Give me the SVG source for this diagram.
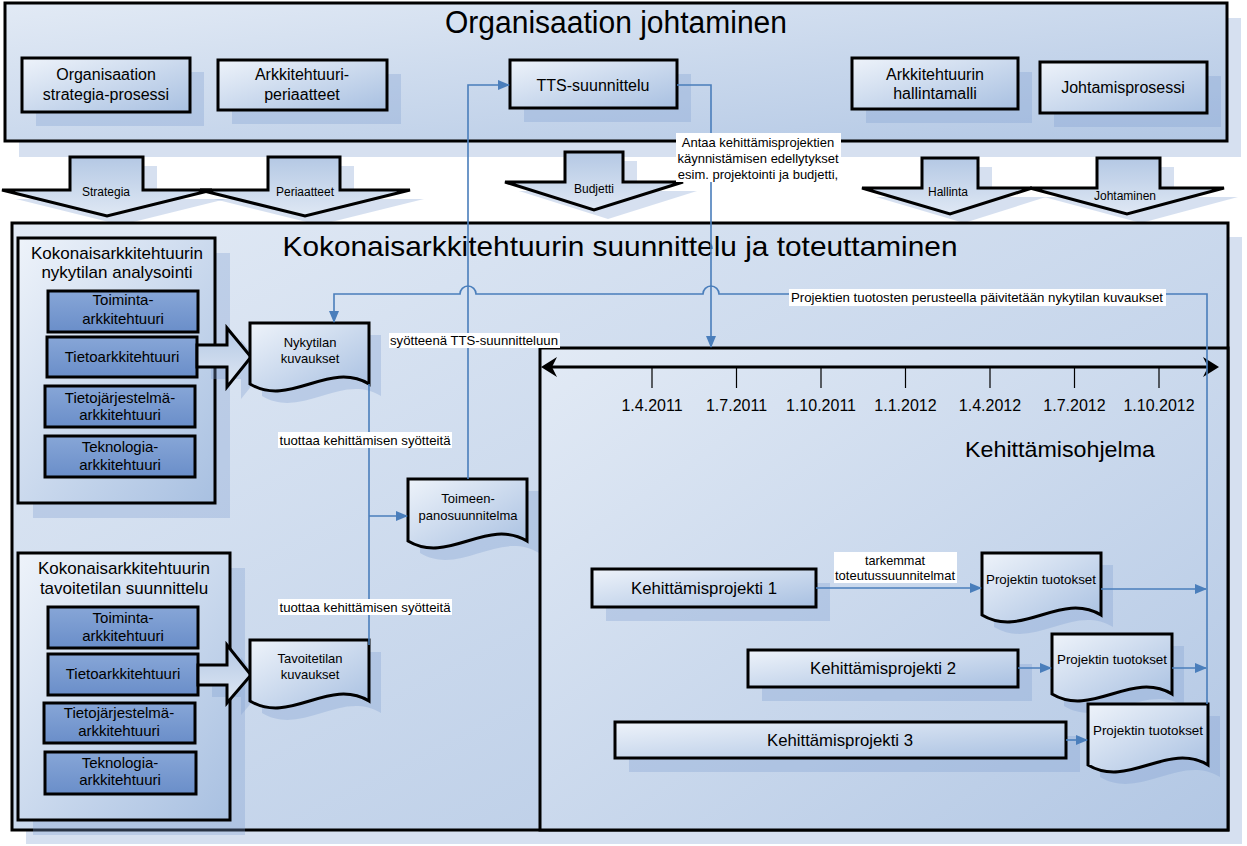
<svg xmlns="http://www.w3.org/2000/svg" width="1247" height="846" viewBox="0 0 1247 846">
<defs>
<linearGradient id="gOuter" x1="0" y1="0" x2="1" y2="1"><stop offset="0" stop-color="#e2eaf5"/><stop offset="1" stop-color="#b2c7e4"/></linearGradient>
<linearGradient id="gBox" x1="0" y1="0" x2="1" y2="1"><stop offset="0" stop-color="#eef3fa"/><stop offset="1" stop-color="#a8c0e1"/></linearGradient>
<linearGradient id="gDark" x1="0" y1="0" x2="0" y2="1"><stop offset="0" stop-color="#87a6d7"/><stop offset="1" stop-color="#6a8ec9"/></linearGradient>
<linearGradient id="gArrow" x1="0" y1="0" x2="0" y2="1"><stop offset="0" stop-color="#b4c8e4"/><stop offset="1" stop-color="#dfe8f4"/></linearGradient>
<marker id="ah" markerUnits="userSpaceOnUse" markerWidth="12" markerHeight="10" refX="11" refY="5" orient="auto"><path d="M0,0 L12,5 L0,10 Z" fill="#4a7ebb"/></marker>
<style>
.frame{stroke:#000;stroke-width:3}
.outer{fill:url(#gOuter)}
.box{fill:url(#gBox)}
.dark{fill:url(#gDark)}
.arr{fill:url(#gArrow);stroke:#000;stroke-width:3;stroke-linejoin:miter}
.sh{fill:#7f9fd0;opacity:0.32}
text{font-family:"Liberation Sans",Arial,sans-serif;fill:#000;text-anchor:middle}
.t16{font-size:16px}
.t15{font-size:15px}
.t17{font-size:17px}
.t13{font-size:13px}
.t12{font-size:12px}
.con{fill:none;stroke:#4a7ebb;stroke-width:1.6}
.lbl{fill:#fff}
</style>
</defs>

<!-- top box -->
<g id="org-johtaminen">
<rect class="sh" x="19" y="18" width="1222" height="139"/>
<rect class="outer frame" x="5" y="3" width="1222" height="138"/>
<text x="616" y="33" style="font-size:31px" textLength="342" lengthAdjust="spacingAndGlyphs">Organisaation johtaminen</text>
</g>
<g id="strategia-prosessi">
<rect class="sh" x="36" y="72" width="168" height="54"/>
<rect class="box frame" x="22" y="58" width="168" height="54"/>
<text class="t16" x="106" y="80">Organisaation</text>
<text class="t16" x="106" y="100">strategia-prosessi</text>
</g>
<g id="periaatteet">
<rect class="sh" x="232" y="74" width="169" height="50"/>
<rect class="box frame" x="218" y="60" width="169" height="50"/>
<text class="t16" x="302" y="80">Arkkitehtuuri-</text>
<text class="t16" x="302" y="100">periaatteet</text>
</g>
<g id="tts">
<rect class="sh" x="524" y="74" width="167" height="48"/>
<rect class="box frame" x="510" y="60" width="167" height="48"/>
<text class="t16" x="593" y="91">TTS-suunnittelu</text>
</g>
<g id="hallintamalli">
<rect class="sh" x="866" y="72" width="166" height="51"/>
<rect class="box frame" x="852" y="58" width="166" height="51"/>
<text class="t16" x="935" y="80">Arkkitehtuurin</text>
<text class="t16" x="935" y="99">hallintamalli</text>
</g>
<g id="johtamisprosessi">
<rect class="sh" x="1054" y="76" width="167" height="51"/>
<rect class="box frame" x="1040" y="62" width="167" height="51"/>
<text class="t16" x="1123" y="93">Johtamisprosessi</text>
</g>

<!-- down block arrows -->
<g id="arrow-strategia">
<path class="sh" d="M84,166 H157 V199 H226 L121,225 L16,199 H84 Z"/>
<path class="arr" d="M70,157 H143 V190 H212 L107,216 L2,190 H70 Z"/>
<text class="t12" x="106" y="196">Strategia</text>
</g>
<g id="arrow-periaatteet">
<path class="sh" d="M282,166 H354 V199 H424 L319,225 L214,199 H282 Z"/>
<path class="arr" d="M268,157 H340 V190 H410 L305,216 L200,190 H268 Z"/>
<text class="t12" x="305" y="196">Periaatteet</text>
</g>
<g id="arrow-budjetti">
<path class="sh" d="M579,161 H637 V191 H697 L608,219 L519,191 H579 Z"/>
<path class="arr" d="M565,152 H623 V182 H683 L594,210 L505,182 H565 Z"/>
<text class="t12" x="594" y="193">Budjetti</text>
</g>
<g id="arrow-hallinta">
<path class="sh" d="M936,167 H992 V197 H1046 L964,223 L876,197 H936 Z"/>
<path class="arr" d="M922,158 H978 V188 H1032 L950,214 L862,188 H922 Z"/>
<text class="t12" x="948" y="196">Hallinta</text>
</g>
<g id="arrow-johtaminen">
<path class="sh" d="M1111,167 H1174 V197 H1238 L1141,223 L1044,197 H1111 Z"/>
<path class="arr" d="M1097,158 H1160 V188 H1224 L1127,214 L1030,188 H1097 Z"/>
<text class="t12" x="1125" y="200">Johtaminen</text>
</g>

<!-- big box -->
<g id="kokonais">
<rect class="sh" x="26" y="237" width="1216" height="607"/>
<rect class="outer frame" x="12" y="223" width="1216" height="607"/>
<text x="620" y="256" style="font-size:28px" textLength="675" lengthAdjust="spacingAndGlyphs">Kokonaisarkkitehtuurin suunnittelu ja toteuttaminen</text>
</g>

<!-- panel 1 -->
<g id="nykytila-panel">
<rect class="sh" x="33" y="253" width="197" height="265"/>
<rect class="box frame" x="18" y="238" width="197" height="265"/>
<text class="t17" x="117" y="259">Kokonaisarkkitehtuurin</text>
<text class="t17" x="117" y="278">nykytilan analysointi</text>
</g>
<g id="n-toiminta"><rect class="dark frame" x="48" y="291" width="150" height="41"/><text class="t15" x="123" y="305">Toiminta-</text><text class="t15" x="123" y="324">arkkitehtuuri</text></g>
<g id="n-tieto"><rect class="dark frame" x="47" y="337" width="150" height="40"/><text class="t15" x="122" y="362">Tietoarkkitehtuuri</text></g>
<g id="n-tietojarj"><rect class="dark frame" x="45" y="386" width="150" height="41"/><text class="t15" x="120" y="403">Tietojärjestelmä-</text><text class="t15" x="120" y="420">arkkitehtuuri</text></g>
<g id="n-teknologia"><rect class="dark frame" x="45" y="436" width="150" height="41"/><text class="t15" x="120" y="452">Teknologia-</text><text class="t15" x="120" y="470">arkkitehtuuri</text></g>
<g id="n-blockarrow">
<path class="sh" d="M211,357 H241 V340 L265,369 L241,399 V379 H211 Z"/>
<path class="arr" d="M197,345 H227 V328 L251,357 L227,387 V367 H197 Z"/>
</g>
<g id="nykytilan-kuvaukset">
<path class="sh" d="M262,335 H381 V396 C341,372 302,420 262,396 Z"/>
<path class="box frame" d="M250,323 H369 V384 C329,360 290,408 250,384 Z"/>
<text class="t13" x="310" y="347">Nykytilan</text>
<text class="t13" x="310" y="363">kuvaukset</text>
</g>

<!-- panel 2 -->
<g id="tavoitetila-panel">
<rect class="sh" x="33" y="568" width="212" height="267"/>
<rect class="box frame" x="18" y="553" width="212" height="267"/>
<text class="t17" x="124" y="574">Kokonaisarkkitehtuurin</text>
<text class="t17" x="124" y="594">tavoitetilan suunnittelu</text>
</g>
<g id="t-toiminta"><rect class="dark frame" x="48" y="607" width="150" height="41"/><text class="t15" x="123" y="623">Toiminta-</text><text class="t15" x="123" y="641">arkkitehtuuri</text></g>
<g id="t-tieto"><rect class="dark frame" x="48" y="654" width="150" height="41"/><text class="t15" x="123" y="679">Tietoarkkitehtuuri</text></g>
<g id="t-tietojarj"><rect class="dark frame" x="44" y="703" width="151" height="40"/><text class="t15" x="119" y="718">Tietojärjestelmä-</text><text class="t15" x="119" y="736">arkkitehtuuri</text></g>
<g id="t-teknologia"><rect class="dark frame" x="45" y="752" width="151" height="42"/><text class="t15" x="120" y="768">Teknologia-</text><text class="t15" x="120" y="785">arkkitehtuuri</text></g>
<g id="t-blockarrow">
<path class="sh" d="M212,677 H241 V657 L265,687 L241,715 V697 H212 Z"/>
<path class="arr" d="M198,665 H227 V645 L251,675 L227,703 V685 H198 Z"/>
</g>
<g id="tavoitetilan-kuvaukset">
<path class="sh" d="M262,652 H381 V713 C341,689 302,737 262,713 Z"/>
<path class="box frame" d="M250,640 H369 V701 C329,677 290,725 250,701 Z"/>
<text class="t13" x="310" y="663">Tavoitetilan</text>
<text class="t13" x="310" y="679">kuvaukset</text>
</g>

<g id="toimeenpanosuunnitelma">
<path class="sh" d="M420,491 H539 V553 C499,529 460,577 420,553 Z"/>
<path class="box frame" d="M408,479 H527 V541 C487,517 448,565 408,541 Z"/>
<text class="t13" x="468" y="503">Toimeen-</text>
<text class="t13" x="468" y="520">panosuunnitelma</text>
</g>

<!-- Kehittamisohjelma -->
<g id="kehittamisohjelma">
<rect class="outer frame" x="540" y="348" width="688" height="482"/>
<text x="1060" y="457" style="font-size:22px" textLength="190" lengthAdjust="spacingAndGlyphs">Kehittämisohjelma</text>
</g>
<g id="timeline">
<path d="M548,367 H1212" stroke="#000" stroke-width="3" fill="none"/>
<path d="M541,367 L557,357 L552,367 L557,377 Z" fill="#000"/>
<path d="M1219,367 L1203,357 L1208,367 L1203,377 Z" fill="#000"/>
<g stroke="#000" stroke-width="1.2">
<path d="M652,367 V388 M736.5,367 V388 M821,367 V388 M905.5,367 V388 M990,367 V388 M1074.5,367 V388 M1159,367 V388"/>
</g>
<text class="t16" x="652" y="411">1.4.2011</text>
<text class="t16" x="736.5" y="411">1.7.2011</text>
<text class="t16" x="821" y="411">1.10.2011</text>
<text class="t16" x="905.5" y="411">1.1.2012</text>
<text class="t16" x="990" y="411">1.4.2012</text>
<text class="t16" x="1074.5" y="411">1.7.2012</text>
<text class="t16" x="1159" y="411">1.10.2012</text>
</g>

<g id="projekti1">
<rect class="sh" x="606" y="583" width="224" height="38"/>
<rect class="box frame" x="592" y="569" width="224" height="38"/>
<text class="t17" x="704" y="594" textLength="146" lengthAdjust="spacingAndGlyphs">Kehittämisprojekti 1</text>
</g>
<g id="projekti2">
<rect class="sh" x="762" y="664" width="270" height="37"/>
<rect class="box frame" x="748" y="650" width="270" height="37"/>
<text class="t17" x="883" y="674" textLength="146" lengthAdjust="spacingAndGlyphs">Kehittämisprojekti 2</text>
</g>
<g id="projekti3">
<rect class="sh" x="629" y="736" width="451" height="36"/>
<rect class="box frame" x="615" y="722" width="451" height="36"/>
<text class="t17" x="840" y="746" textLength="146" lengthAdjust="spacingAndGlyphs">Kehittämisprojekti 3</text>
</g>
<g id="tuotokset1">
<path class="sh" d="M994,565 H1113 V627 C1073,603 1034,651 994,627 Z"/>
<path class="box frame" d="M982,553 H1101 V615 C1061,591 1022,639 982,615 Z"/>
<text class="t13" x="1041" y="584" textLength="110" lengthAdjust="spacingAndGlyphs">Projektin tuotokset</text>
</g>
<g id="tuotokset2">
<path class="sh" d="M1064,646 H1184 V706 C1144,682 1104,730 1064,706 Z"/>
<path class="box frame" d="M1052,634 H1172 V694 C1132,670 1092,718 1052,694 Z"/>
<text class="t13" x="1112" y="664" textLength="110" lengthAdjust="spacingAndGlyphs">Projektin tuotokset</text>
</g>
<g id="tuotokset3">
<path class="sh" d="M1100,716 H1220 V777 C1180,753 1140,801 1100,777 Z"/>
<path class="box frame" d="M1088,704 H1208 V765 C1168,741 1128,789 1088,765 Z"/>
<text class="t13" x="1148" y="735" textLength="110" lengthAdjust="spacingAndGlyphs">Projektin tuotokset</text>
</g>

<!-- connectors -->
<g id="connectors">
<path class="con" d="M468,479 V85 H509" marker-end="url(#ah)"/>
<path class="con" d="M677,85 H711 V347" marker-end="url(#ah)"/>
<path class="con" d="M1207,704 V294 H719 A8,8 0 0 0 703,294 H476 A8,8 0 0 0 460,294 H334 V322" marker-end="url(#ah)"/>
<path class="con" d="M369,384 V645"/>
<path class="con" d="M369,516 H407" marker-end="url(#ah)"/>
<path class="con" d="M816,588 H981" marker-end="url(#ah)"/>
<path class="con" d="M1101,589 H1206" marker-end="url(#ah)"/>
<path class="con" d="M1018,668 H1051" marker-end="url(#ah)"/>
<path class="con" d="M1172,668 H1206" marker-end="url(#ah)"/>
<path class="con" d="M1066,740 H1087" marker-end="url(#ah)"/>

<rect class="lbl" x="676" y="133" width="165" height="49"/>
<text class="t13" x="758" y="147">Antaa kehittämisprojektien</text>
<text class="t13" x="758" y="163">käynnistämisen edellytykset</text>
<text class="t13" x="758" y="179">esim. projektointi ja budjetti,</text>

<rect class="lbl" x="789" y="289" width="377" height="17"/>
<text class="t13" x="977" y="302" textLength="372" lengthAdjust="spacingAndGlyphs">Projektien tuotosten perusteella päivitetään nykytilan kuvaukset</text>

<rect class="lbl" x="389" y="333" width="171" height="15"/>
<text class="t13" x="474" y="345" textLength="168" lengthAdjust="spacingAndGlyphs">syötteenä TTS-suunnitteluun</text>

<rect class="lbl" x="278" y="432" width="174" height="16"/>
<text class="t13" x="365" y="445" textLength="171" lengthAdjust="spacingAndGlyphs">tuottaa kehittämisen syötteitä</text>

<rect class="lbl" x="278" y="599" width="174" height="16"/>
<text class="t13" x="365" y="612" textLength="171" lengthAdjust="spacingAndGlyphs">tuottaa kehittämisen syötteitä</text>

<rect class="lbl" x="834" y="552" width="123" height="31"/>
<text class="t13" x="895" y="565" textLength="60" lengthAdjust="spacingAndGlyphs">tarkemmat</text>
<text class="t13" x="895" y="580" textLength="120" lengthAdjust="spacingAndGlyphs">toteutussuunnitelmat</text>
</g>
</svg>
